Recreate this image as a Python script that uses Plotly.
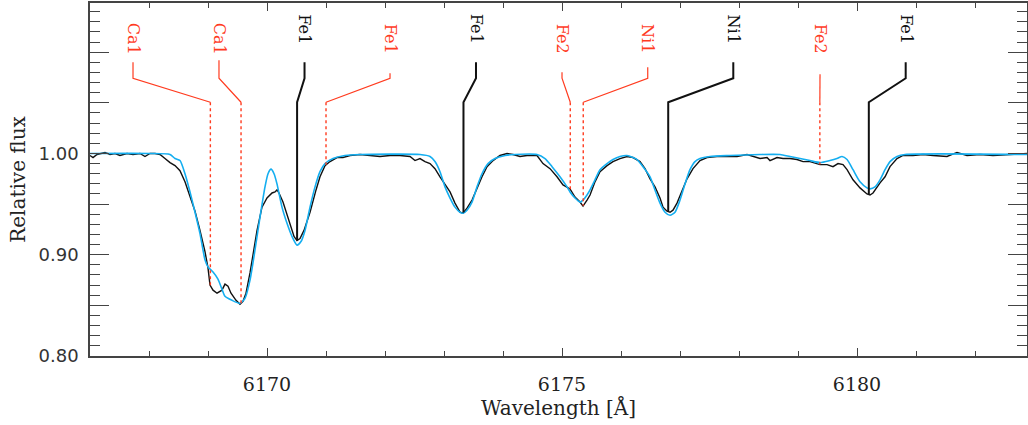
import numpy as np
import plotly.graph_objects as go

# ---------------- data ----------------
obs_wave = [6167.000, 6167.051, 6167.119, 6167.254, 6167.339, 6167.424, 6167.508, 6167.627,
            6167.729, 6167.847, 6167.932, 6168.017, 6168.102, 6168.186, 6168.271, 6168.356,
            6168.441, 6168.525, 6168.610, 6168.695, 6168.780, 6168.864, 6168.949, 6169.000,
            6169.034, 6169.085, 6169.153, 6169.237, 6169.288, 6169.339, 6169.390, 6169.475,
            6169.542, 6169.593, 6169.644, 6169.712, 6169.780, 6169.831, 6169.915, 6170.000,
            6170.085, 6170.136, 6170.169, 6170.203, 6170.271, 6170.339, 6170.407, 6170.458,
            6170.508, 6170.559, 6170.627, 6170.729, 6170.831, 6170.898, 6170.983, 6171.068,
            6171.186, 6171.288, 6171.407, 6171.576, 6171.746, 6171.915, 6172.085, 6172.254,
            6172.424, 6172.508, 6172.593, 6172.678, 6172.763, 6172.847, 6172.932, 6173.017,
            6173.102, 6173.186, 6173.271, 6173.322, 6173.390, 6173.475, 6173.559, 6173.644,
            6173.729, 6173.831, 6173.949, 6174.068, 6174.169, 6174.288, 6174.407, 6174.508,
            6174.576, 6174.678, 6174.797, 6174.915, 6175.017, 6175.136, 6175.220, 6175.305,
            6175.356, 6175.424, 6175.475, 6175.559, 6175.644, 6175.763, 6175.864, 6175.983,
            6176.102, 6176.203, 6176.322, 6176.407, 6176.492, 6176.576, 6176.661, 6176.712,
            6176.780, 6176.831, 6176.881, 6176.949, 6177.034, 6177.119, 6177.220, 6177.339,
            6177.458, 6177.627, 6177.797, 6177.966, 6178.136, 6178.237, 6178.356, 6178.475,
            6178.525, 6178.644, 6178.746, 6178.864, 6178.983, 6179.085, 6179.203, 6179.373,
            6179.492, 6179.593, 6179.678, 6179.763, 6179.831, 6179.932, 6180.051, 6180.169,
            6180.220, 6180.271, 6180.339, 6180.390, 6180.475, 6180.559, 6180.678, 6180.780,
            6180.949, 6181.119, 6181.288, 6181.525, 6181.695, 6181.864, 6182.085, 6182.305,
            6182.593, 6182.881]
obs_flux = [0.998, 0.996, 0.999, 1.001, 0.999, 1.000, 0.998, 1.000,
            0.999, 1.000, 0.997, 1.000, 1.000, 0.999, 0.995, 0.991,
            0.988, 0.983, 0.972, 0.958, 0.943, 0.924, 0.903, 0.887,
            0.870, 0.865, 0.862, 0.865, 0.871, 0.869, 0.862, 0.855,
            0.851, 0.854, 0.862, 0.882, 0.905, 0.924, 0.947, 0.956,
            0.961, 0.962, 0.964, 0.961, 0.952, 0.939, 0.926, 0.918,
            0.914, 0.916, 0.924, 0.942, 0.964, 0.977, 0.988, 0.992,
            0.996, 0.996, 0.998, 0.999, 0.998, 0.997, 0.998, 0.998,
            0.997, 0.993, 0.995, 0.992, 0.990, 0.985, 0.977, 0.970,
            0.962, 0.951, 0.942, 0.941, 0.946, 0.954, 0.966, 0.977,
            0.987, 0.993, 0.998, 1.000, 0.999, 0.997, 0.998, 0.998,
            0.998, 0.990, 0.985, 0.977, 0.969, 0.965, 0.957, 0.952,
            0.948, 0.954, 0.959, 0.972, 0.982, 0.988, 0.992, 0.995,
            0.997, 0.996, 0.992, 0.985, 0.975, 0.967, 0.956, 0.947,
            0.943, 0.942, 0.944, 0.951, 0.964, 0.975, 0.985, 0.993,
            0.996, 0.997, 0.997, 0.997, 0.999, 0.997, 0.995, 0.996,
            0.993, 0.996, 0.995, 0.995, 0.994, 0.992, 0.992, 0.989,
            0.989, 0.987, 0.990, 0.989, 0.984, 0.974, 0.966, 0.960,
            0.959, 0.961, 0.967, 0.971, 0.977, 0.987, 0.995, 0.998,
            0.998, 0.999, 0.998, 0.997, 1.001, 0.998, 0.999, 0.998,
            0.999, 1.000]

syn_wave = [6167.000, 6168.017, 6168.356, 6168.441, 6168.525, 6168.610, 6168.695, 6168.780,
            6168.864, 6168.949, 6169.000, 6169.085, 6169.169, 6169.237, 6169.288, 6169.407,
            6169.542, 6169.627, 6169.712, 6169.797, 6169.881, 6169.966, 6170.017, 6170.068,
            6170.119, 6170.169, 6170.254, 6170.339, 6170.424, 6170.508, 6170.576, 6170.644,
            6170.729, 6170.814, 6170.898, 6170.983, 6171.119, 6171.322, 6171.576, 6172.593,
            6172.763, 6172.847, 6172.932, 6173.017, 6173.102, 6173.186, 6173.271, 6173.322,
            6173.390, 6173.475, 6173.559, 6173.644, 6173.746, 6173.864, 6174.034, 6174.203,
            6174.576, 6174.712, 6174.831, 6174.966, 6175.085, 6175.136, 6175.220, 6175.305,
            6175.356, 6175.424, 6175.475, 6175.559, 6175.644, 6175.763, 6175.864, 6175.983,
            6176.102, 6176.203, 6176.271, 6176.373, 6176.492, 6176.576, 6176.661, 6176.746,
            6176.831, 6176.915, 6177.000, 6177.085, 6177.169, 6177.254, 6177.339, 6177.508,
            6177.847, 6178.356, 6178.695, 6178.864, 6179.034, 6179.203, 6179.373, 6179.542,
            6179.661, 6179.746, 6179.831, 6179.932, 6180.051, 6180.169, 6180.220, 6180.305,
            6180.390, 6180.475, 6180.559, 6180.678, 6180.814, 6182.881]
syn_flux = [1.000, 1.000, 0.999, 0.995, 0.993, 0.980, 0.962, 0.942,
            0.921, 0.895, 0.888, 0.883, 0.876, 0.866, 0.859, 0.855,
            0.852, 0.857, 0.875, 0.905, 0.937, 0.967, 0.980, 0.9845,
            0.980, 0.970, 0.947, 0.931, 0.918, 0.9095, 0.913, 0.924,
            0.947, 0.967, 0.982, 0.990, 0.995, 0.998, 0.999, 0.999,
            0.997, 0.992, 0.982, 0.967, 0.956, 0.947, 0.942, 0.941,
            0.944, 0.952, 0.967, 0.980, 0.990, 0.995, 0.998, 0.999,
            0.999, 0.995, 0.987, 0.977, 0.967, 0.962, 0.956, 0.952,
            0.954, 0.959, 0.964, 0.974, 0.984, 0.990, 0.994, 0.997,
            0.998, 0.996, 0.994, 0.987, 0.977, 0.964, 0.951, 0.942,
            0.939, 0.942, 0.954, 0.970, 0.984, 0.992, 0.995, 0.997,
            0.998, 0.999, 0.999, 0.997, 0.995, 0.993, 0.991, 0.993,
            0.995, 0.997, 0.994, 0.984, 0.972, 0.966, 0.965, 0.967,
            0.974, 0.984, 0.992, 0.997, 0.999, 0.999]

line_names = ["Ca1", "Ca1", "Fe1", "Fe1", "Fe1", "Fe2", "Ni1", "Ni1", "Fe2", "Fe1"]
line_waves = [6169.04, 6169.56, 6170.51, 6171.00, 6173.33, 6175.14, 6175.36, 6176.80, 6179.37, 6180.20]
line_in_model = [False, False, True, False, True, False, False, True, False, True]
label_waves = [6167.729, 6169.186, 6170.636, 6172.085, 6173.542, 6175.000, 6176.453, 6177.903, 6179.373, 6180.825]

x_ticks = [6170, 6175, 6180]
y_ticks = [0.80, 0.85, 0.90, 0.95, 1.00, 1.05, 1.10]
y_tick_text = ["0.80", "", "0.90", "", "1.00", "", ""]

# ---------------- style ----------------
BLACK = "#111111"
BLUE = "#14aef0"
RED = "#ff3b1f"
AXC = "#444444"

fig = go.Figure()

fig.add_trace(go.Scatter(x=obs_wave, y=obs_flux, mode="lines",
                         line=dict(color=BLACK, width=1.4), showlegend=False, hoverinfo="skip"))
fig.add_trace(go.Scatter(x=syn_wave, y=syn_flux, mode="lines",
                         line=dict(color=BLUE, width=1.6, shape="spline", smoothing=0.6),
                         showlegend=False, hoverinfo="skip"))

# line identification markers
y_top_black = 1.0901
y_top_red = [1.0901, 1.0920, None, 1.0792, None, 1.0802, 1.0851, None, 1.0783, None]
y_knee = 1.0743
y_elbow = 1.0506
y_lab_black = 1.1231
y_lab_red = 1.1133

for i, (name, lw, solid, lx) in enumerate(zip(line_names, line_waves, line_in_model, label_waves)):
    f_end = float(np.interp(lw, obs_wave, obs_flux))
    if solid:
        col = BLACK
        fig.add_trace(go.Scatter(x=[lx, lx, lw, lw], y=[y_top_black, y_knee, y_elbow, f_end],
                                 mode="lines", line=dict(color=col, width=2.0),
                                 showlegend=False, hoverinfo="skip"))
        ylab = y_lab_black
    else:
        col = RED
        fig.add_trace(go.Scatter(x=[lx, lx, lw], y=[y_top_red[i], y_knee, y_elbow],
                                 mode="lines", line=dict(color=col, width=1.2),
                                 showlegend=False, hoverinfo="skip"))
        fig.add_trace(go.Scatter(x=[lw, lw], y=[y_elbow, f_end],
                                 mode="lines", line=dict(color=col, width=1.4, dash="dot"),
                                 showlegend=False, hoverinfo="skip"))
        ylab = y_lab_red
    fig.add_annotation(x=lx, y=ylab, text=name, textangle=90, showarrow=False,
                       font=dict(family="DejaVu Serif", size=16, color=col),
                       xanchor="center", yanchor="middle")

fig.update_layout(
    width=1028, height=425,
    margin=dict(l=90, r=1, t=3, b=69),
    paper_bgcolor="white", plot_bgcolor="white",
    showlegend=False,
)

fig.update_xaxes(
    range=[6167.0, 6182.881], showgrid=False, zeroline=False, automargin=False,
    showline=True, linecolor=AXC, linewidth=1.5, mirror="ticks",
    ticks="inside", ticklen=8, tickwidth=1.2, tickcolor=AXC,
    tickvals=x_ticks, ticktext=[str(v) for v in x_ticks],
    tickfont=dict(family="DejaVu Serif", size=19, color="#222222"),
    ticklabelstandoff=10,
    minor=dict(dtick=1, tick0=6167, ticks="inside", ticklen=5, tickwidth=1, tickcolor=AXC, showgrid=False),
    title=dict(text="Wavelength [Å]", font=dict(family="DejaVu Serif", size=20, color="#222222"), standoff=6),
)
fig.update_yaxes(
    range=[0.80, 1.1486], showgrid=False, zeroline=False, automargin=False,
    showline=True, linecolor=AXC, linewidth=1.5, mirror="ticks",
    ticks="inside", ticklen=19, tickwidth=1.2, tickcolor=AXC,
    tickvals=y_ticks, ticktext=y_tick_text,
    tickfont=dict(family="DejaVu Sans", size=18, color="#333333"),
    ticklabelstandoff=6,
    minor=dict(dtick=0.01, tick0=0.80, ticks="inside", ticklen=10, tickwidth=1, tickcolor=AXC, showgrid=False),
    title=dict(text="Relative flux", font=dict(family="DejaVu Serif", size=20, color="#222222"), standoff=8),
)

fig.write_html("out.html", config={"displayModeBar": False},
               post_script="document.body.style.margin='0';document.body.style.overflow='hidden';")
